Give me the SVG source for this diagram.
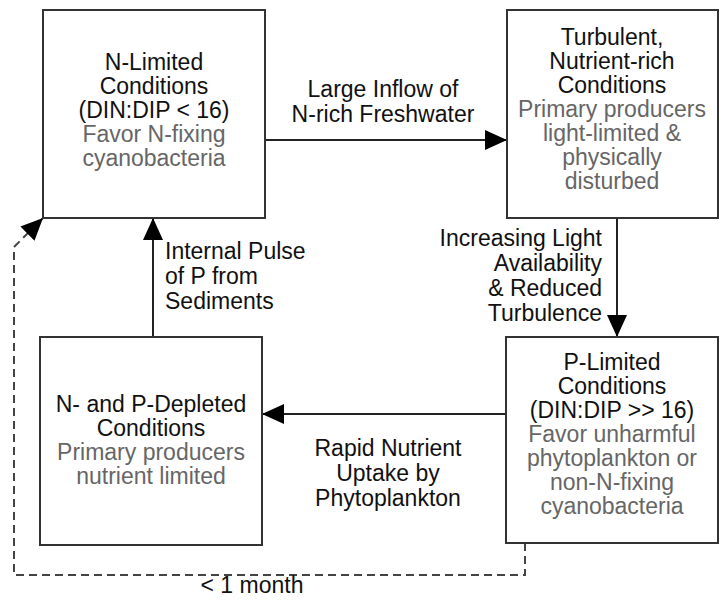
<svg xmlns="http://www.w3.org/2000/svg" width="721" height="603" viewBox="0 0 721 603">
<defs>
<style>
text{font-family:"Liberation Sans",Arial,Helvetica,sans-serif;font-size:23px;fill:#111;}
.c{text-anchor:middle;}
.r{text-anchor:end;}
.g{fill:#666;}
.box{fill:#fff;stroke:#333;stroke-width:2;}
.edge{fill:none;stroke:#222;stroke-width:2;}
.dash{fill:none;stroke:#444;stroke-width:2;stroke-dasharray:8 5;}
</style>
<marker id="ah" viewBox="0 0 22 20" refX="22" refY="10" markerWidth="22" markerHeight="20" markerUnits="userSpaceOnUse" orient="auto">
<path d="M0,0 L22,10 L0,20 z" fill="#000"/>
</marker>
</defs>
<rect width="721" height="603" fill="#fff"/>
<g id="connectors">
<line class="edge" x1="265" y1="140" x2="507" y2="140" marker-end="url(#ah)"/>
<line class="edge" x1="617" y1="218" x2="617" y2="337" marker-end="url(#ah)"/>
<line class="edge" x1="506" y1="414" x2="262" y2="414" marker-end="url(#ah)"/>
<line class="edge" x1="153" y1="337" x2="153" y2="218" marker-end="url(#ah)"/>
<path class="dash" d="M525,543 V575 H14 V247 L43,218" marker-end="url(#ah)"/>
<text class="c" x="383" y="97">Large Inflow of</text>
<text class="c" x="383" y="122">N-rich Freshwater</text>
<text class="r" x="602" y="246">Increasing Light</text>
<text class="r" x="602" y="271">Availability</text>
<text class="r" x="602" y="296">&amp; Reduced</text>
<text class="r" x="602" y="321">Turbulence</text>
<text class="c" x="388" y="456">Rapid Nutrient</text>
<text class="c" x="388" y="481">Uptake by</text>
<text class="c" x="388" y="506">Phytoplankton</text>
<text x="165" y="259">Internal Pulse</text>
<text x="165" y="284">of P from</text>
<text x="165" y="309">Sediments</text>
<text class="c" x="252" y="593">&lt; 1 month</text>
</g>
<g id="n-limited">
<rect class="box" x="43" y="10" width="222" height="208"/>
<text class="c" x="154" y="70">N-Limited</text>
<text class="c" x="154" y="94">Conditions</text>
<text class="c" x="154" y="118">(DIN:DIP &lt; 16)</text>
<text class="c g" x="154" y="142">Favor N-fixing</text>
<text class="c g" x="154" y="166">cyanobacteria</text>
</g>
<g id="turbulent">
<rect class="box" x="507" y="10" width="211" height="208"/>
<text class="c" x="612" y="45">Turbulent,</text>
<text class="c" x="612" y="69">Nutrient-rich</text>
<text class="c" x="612" y="93">Conditions</text>
<text class="c g" x="612" y="117">Primary producers</text>
<text class="c g" x="612" y="141">light-limited &amp;</text>
<text class="c g" x="612" y="165">physically</text>
<text class="c g" x="612" y="189">disturbed</text>
</g>
<g id="depleted">
<rect class="box" x="40" y="337" width="222" height="208"/>
<text class="c" x="151" y="412">N- and P-Depleted</text>
<text class="c" x="151" y="436">Conditions</text>
<text class="c g" x="151" y="460">Primary producers</text>
<text class="c g" x="151" y="484">nutrient limited</text>
</g>
<g id="p-limited">
<rect class="box" x="506" y="337" width="212" height="206"/>
<text class="c" x="612" y="370">P-Limited</text>
<text class="c" x="612" y="394">Conditions</text>
<text class="c" x="612" y="418">(DIN:DIP &gt;&gt; 16)</text>
<text class="c g" x="612" y="442">Favor unharmful</text>
<text class="c g" x="612" y="466">phytoplankton or</text>
<text class="c g" x="612" y="490">non-N-fixing</text>
<text class="c g" x="612" y="514">cyanobacteria</text>
</g>
</svg>
